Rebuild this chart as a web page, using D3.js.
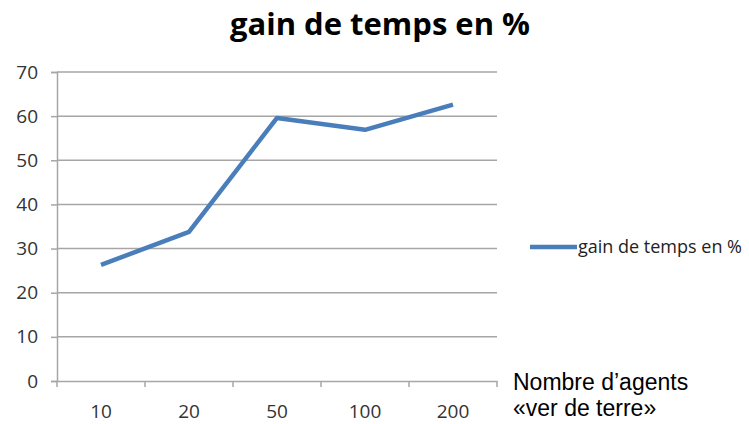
<!DOCTYPE html>
<html>
<head>
<meta charset="utf-8">
<script src="https://cdn.jsdelivr.net/npm/d3@7"></script>
<style>
  body { margin: 0; background: #fff; }
</style>
</head>
<body>
<div id="chart"></div>
<script>
var categories = ['10', '20', '50', '100', '200'];
var gains = [26.3, 33.8, 59.6, 56.9, 62.6];
var yTicks = [0, 10, 20, 30, 40, 50, 60, 70];
var seriesName = 'gain de temps en %';

var width = 749, height = 424;
var margin = { top: 72, left: 57, right: 252, bottom: 43 };

var svg = d3.select('#chart')
    .append('svg')
    .attr('width', width)
    .attr('height', height);

var x = d3.scaleBand()
    .domain(categories)
    .range([margin.left, width - margin.right]);

var y = d3.scaleLinear()
    .domain([0, 70])
    .range([height - margin.bottom, margin.top]);

// title
svg.append('text')
    .attr('x', 380)
    .attr('y', 35)
    .attr('text-anchor', 'middle')
    .style('font-family', '"Open Sans", sans-serif')
    .style('font-size', '31px')
    .style('font-weight', 'bold')
    .attr('fill', '#000')
    .text('gain de temps en %');

// gridlines
svg.append('g')
    .selectAll('line')
    .data(yTicks.filter(function (d) { return d > 0; }))
    .join('line')
    .attr('x1', margin.left)
    .attr('x2', width - margin.right)
    .attr('y1', function (d) { return y(d); })
    .attr('y2', function (d) { return y(d); })
    .attr('stroke', '#a6a6a6')
    .attr('stroke-width', 1.5);

// y axis
var yAxis = svg.append('g')
    .attr('transform', 'translate(' + margin.left + ',0)')
    .call(d3.axisLeft(y).tickValues(yTicks).tickSize(6).tickPadding(13));

// x axis
var xAxis = svg.append('g')
    .attr('transform', 'translate(0,' + y(0) + ')')
    .call(d3.axisBottom(x).tickSize(0).tickPadding(24));

// x tick marks at band boundaries
var bounds = categories.map(function (c) { return x(c); }).concat([x.range()[1]]);
xAxis.selectAll('.bound')
    .data(bounds)
    .join('line')
    .attr('class', 'bound')
    .attr('x1', function (d) { return d; })
    .attr('x2', function (d) { return d; })
    .attr('y1', 0)
    .attr('y2', 6)
    .attr('stroke', '#a6a6a6')
    .attr('stroke-width', 1.5);

[yAxis, xAxis].forEach(function (ax) {
    ax.select('.domain').attr('stroke', '#a6a6a6').attr('stroke-width', 1.5);
    ax.selectAll('.tick line').attr('stroke', '#a6a6a6').attr('stroke-width', 1.5);
    ax.selectAll('.tick text')
        .style('font-family', '"Open Sans", sans-serif')
        .style('font-size', '19px')
        .attr('fill', '#333');
});

// line
var line = d3.line()
    .x(function (d, i) { return x(categories[i]) + x.bandwidth() / 2; })
    .y(function (d) { return y(d); });

svg.append('path')
    .datum(gains)
    .attr('d', line)
    .attr('fill', 'none')
    .attr('stroke', '#4a7ebb')
    .attr('stroke-width', 4.5)
    .attr('stroke-linejoin', 'round');

// legend
var legend = svg.append('g').attr('transform', 'translate(530,247)');
legend.append('line')
    .attr('x1', 0).attr('x2', 47)
    .attr('stroke', '#4a7ebb')
    .attr('stroke-width', 4.5);
legend.append('text')
    .attr('x', 48)
    .attr('y', 6)
    .style('font-family', '"Open Sans", sans-serif')
    .style('font-size', '18px')
    .attr('fill', '#222')
    .text(seriesName);

// axis caption
var cap = svg.append('text')
    .attr('x', 513)
    .attr('y', 390)
    .style('font-family', '"Liberation Sans", Arial, sans-serif')
    .style('font-size', '23px')
    .attr('fill', '#000');
cap.append('tspan').attr('x', 513).text('Nombre d\u2019agents');
cap.append('tspan').attr('x', 513).attr('dy', 26).text('\u00abver de terre\u00bb');
</script>
</body>
</html>
